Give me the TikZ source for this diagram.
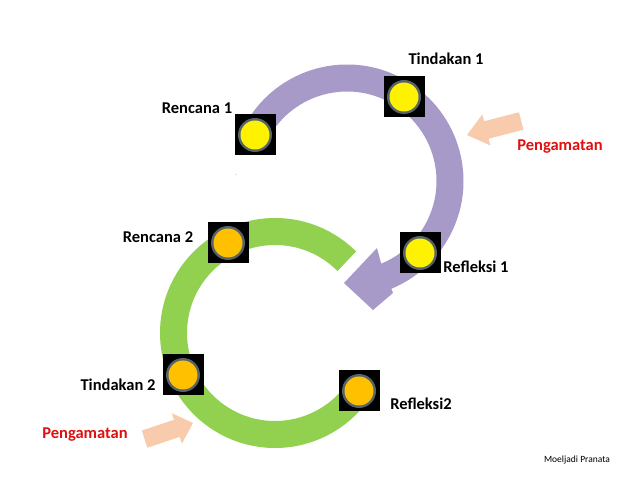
\documentclass[tikz,border=0pt]{standalone}
\usepackage{fontspec}
\setmainfont{Carlito}
\definecolor{lavender}{RGB}{168,154,200}
\definecolor{leafgreen}{RGB}{146,208,80}
\definecolor{peach}{RGB}{248,203,173}
\definecolor{sunorange}{RGB}{255,192,0}
\definecolor{rimgrey}{RGB}{85,100,105}
\definecolor{labelred}{RGB}{222,16,16}
\tikzset{
  stage/.style={fill=black, minimum size=41pt, inner sep=0pt, path picture={
    \fill[rimgrey] (path picture bounding box.center) circle (17pt);
    \fill[#1] (path picture bounding box.center) circle (14.5pt);}},
  stagelabel/.style={font=\fontsize{16.5}{18}\selectfont\bfseries},
  obslabel/.style={stagelabel, text=labelred},
}
\begin{document}
\begin{tikzpicture}[x=1pt,y=1pt]
\fill[white] (0,0) rectangle (638,479);
\useasboundingbox (0,0) rectangle (638,479);
% siklus 1
\draw[lavender, line width=27pt] (347,298) ++(150:103pt) arc[start angle=150, end angle=-68, radius=103pt];
\fill[lavender] (377,231) -- (344,196) -- (373,169) -- (393,186) -- (381,216) -- cycle;
% siklus 2
\draw[leafgreen, line width=27pt] (275,146) ++(45:101.5pt) arc[start angle=45, end angle=330, radius=101.5pt];
% pengamatan
\begin{scope}[shift={(467,344)}, rotate=194.5]
\fill[peach] (0,0) -- (-20,16) -- (-20,9) -- (-56,9) -- (-56,-9) -- (-20,-9) -- (-20,-16) -- cycle;
\end{scope}
\begin{scope}[shift={(193,56)}, rotate=18.4]
\fill[peach] (0,0) -- (-17,16) -- (-17,9) -- (-51,9) -- (-51,-9) -- (-17,-9) -- (-17,-16) -- cycle;
\end{scope}
% tahap
\node[stage=yellow] (r1) at (255,344) {};
\node[stage=yellow] (t1) at (404,382) {};
\node[stage=yellow] (f1) at (420,226) {};
\node[stage=sunorange] (r2) at (228,236) {};
\node[stage=sunorange] (t2) at (183,104) {};
\node[stage=sunorange] (f2) at (359,88) {};
% label
\node[stagelabel] (lr1) at (197,371) {Rencana 1};
\node[stagelabel] (lt1) at (446,420) {Tindakan 1};
\node[stagelabel] (lf1) at (476,212) {Refleksi 1};
\node[stagelabel] (lr2) at (158,242) {Rencana 2};
\node[stagelabel] (lt2) at (118,94) {Tindakan 2};
\node[stagelabel] (lf2) at (421,75) {Refleksi2};
\node[obslabel] (obs1) at (560,332) {Pengamatan};
\node[obslabel] (obs2) at (85,44) {Pengamatan};
\node[text=gray, font=\tiny] (dash) at (236,303) {-};
\node[font=\fontsize{9.5}{11}\selectfont] (author) at (577,19) {Moeljadi Pranata};
\end{tikzpicture}
\end{document}
